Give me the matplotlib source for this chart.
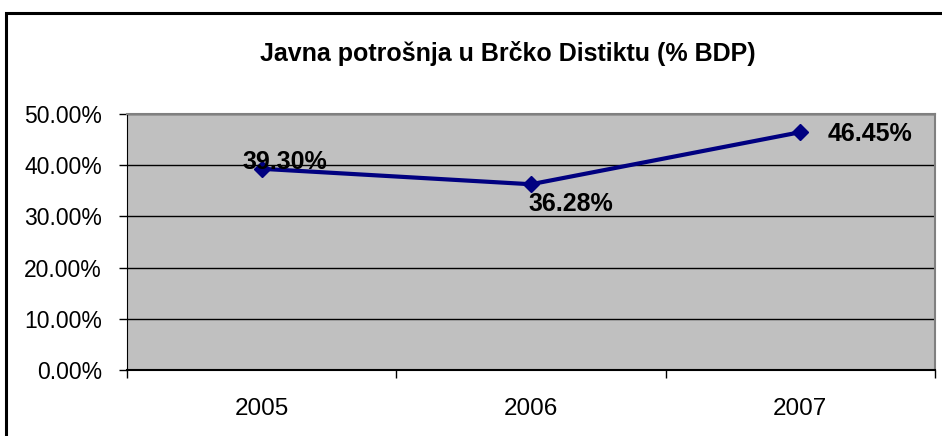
import matplotlib
matplotlib.use("Agg")
import matplotlib.pyplot as plt
from matplotlib.patches import Rectangle
from matplotlib.ticker import FixedLocator, FuncFormatter

years = ["2005", "2006", "2007"]
values = [39.30, 36.28, 46.45]
value_labels = ["39.30%", "36.28%", "46.45%"]
yticks = [0, 10, 20, 30, 40, 50]
title = "Javna potrošnja u Brčko Distiktu (% BDP)"

plt.rcParams['font.family'] = ['Liberation Sans', 'DejaVu Sans']

W, H = 942, 436
fig = plt.figure(figsize=(W / 100, H / 100), dpi=100)
fig.patch.set_facecolor("white")

# outer chart frame (extends past right/bottom edge as in reference)
top = 1 - 12.5 / H
fig.patches.append(Rectangle((6 / W, -0.2), 1.2, top + 0.2, transform=fig.transFigure,
                             fill=False, edgecolor="black", linewidth=2.2, zorder=0))

L, R, T, B = 127, 935, 114, 370
ax = fig.add_axes([L / W, 1 - B / H, (R - L) / W, (B - T) / H])
ax.set_facecolor("#C0C0C0")

x = list(range(len(years)))
ax.plot(x, values, color="#000080", linewidth=3, marker="D", markersize=8, zorder=3, clip_on=False)

ax.set_xlim(-0.5, len(years) - 0.5)
ax.set_ylim(0, 50)
ax.yaxis.set_major_locator(FixedLocator(yticks))
ax.yaxis.set_major_formatter(FuncFormatter(lambda v, p: f"{v:.2f}%"))
ax.grid(axis="y", color="black", linewidth=1)
ax.set_axisbelow(True)

ax.xaxis.set_major_locator(FixedLocator([i - 0.5 for i in range(len(years) + 1)]))
ax.xaxis.set_major_formatter(FuncFormatter(lambda v, p: ""))
ax.set_xticks(x, minor=True)
ax.set_xticklabels(years, minor=True)
ax.tick_params(axis="x", which="minor", length=0, pad=20, labelsize=17.5)
ax.tick_params(axis="x", which="major", length=6, width=1, direction="out")
ax.tick_params(axis="y", length=6, width=1, direction="out", pad=12, labelsize=16.5)

for s in ["top", "right"]:
    ax.spines[s].set_color("#808080")
    ax.spines[s].set_linewidth(1.5)
ax.spines["left"].set_color("black")
ax.spines["bottom"].set_color("black")
ax.spines["bottom"].set_linewidth(1.5)

offsets = [(17, 5), (29, -14), (50, -1)]
for xi, v, lab, off in zip(x, values, value_labels, offsets):
    ax.annotate(lab, (xi, v), xytext=off, textcoords="offset points", ha="center", va="center",
                fontsize=18, fontweight="bold", color="black", zorder=4, annotation_clip=False)

fig.text(0.5 * (245 + 770) / W, 1 - 53 / H, title, ha="center", va="center",
         fontsize=18, fontweight="bold")

fig.savefig("out.png", dpi=100)
